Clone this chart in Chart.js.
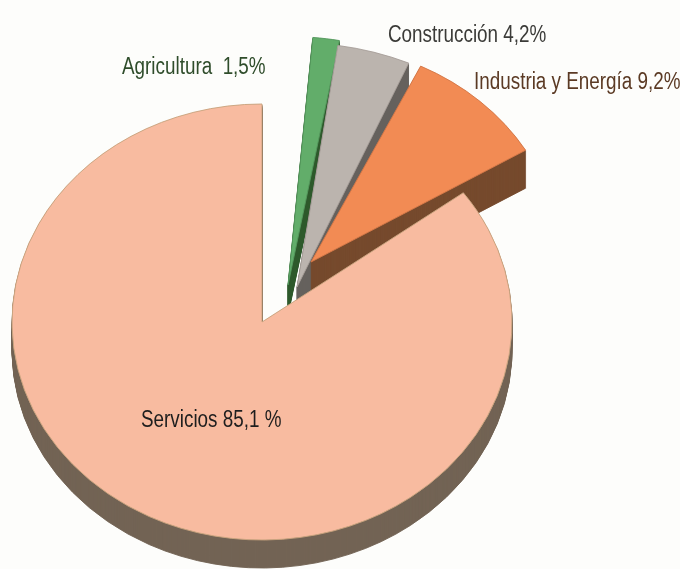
<!DOCTYPE html>
<html lang="es">
<head>
  <meta charset="UTF-8" />
  <meta name="viewport" content="width=device-width, initial-scale=1.0" />
  <title>Estructura sectorial</title>
  <style>
    body {
      margin: 0;
      background: #fdfdfb;
    }
    #wrap {
      width: 680px;
      height: 569px;
      position: relative;
    }
  </style>
</head>
<body>
  <div id="wrap">
    <canvas id="tarta"></canvas>
  </div>

  <script src="https://cdn.jsdelivr.net/npm/chart.js"></script>
  <script>
    const sectores = ["Agricultura", "Construcción", "Industria y Energía", "Servicios"];
    const porcentajes = [1.5, 4.2, 9.2, 85.1];

    // estilo de cada porción
    const colores = ["#62ad6a", "#bbb4ae", "#f28b54", "#f8bba0"];
    const bordes = ["#55985d", "#a8a09a", "#d47848", "#c9a47e"];
    const lados = ["#2e5a2c", "#66625d", "#764a2d", "#736455"];
    const grosor = [30, 34, 38, 28]; // alto del canto en px
    const separacion = [[26, -37], [35, -35], [49, -60], [0, 0]]; // desplazamiento en pantalla
    const giro = [5, 3, 5.5, 0]; // grados que se gira cada porción separada
    const escalaRadio = [1.14, 1.12, 1, 1];
    const colorTexto = ["#2f4d2b", "#3b3b38", "#5b3a24", "#1e1e1e"];
    const posTexto = [[122, 74], [388, 42], [474, 89], [141, 427]];
    const tamTexto = 23;
    const aplanado = 0.872; // vista inclinada: el círculo se ve como elipse

    const fmt = (v, i) =>
      v.toFixed(1).replace(".", ",") + (i === 3 ? " %" : "%");
    const textos = sectores.map((s, i) => s + (i === 0 ? "  " : " ") + fmt(porcentajes[i], i));

    const tarta3d = {
      id: "tarta3d",
      beforeDatasetsDraw(chart) {
        const ctx = chart.ctx;
        const arcos = chart.getDatasetMeta(0).data;
        const cx = arcos[0].x, cy = arcos[0].y;
        const piezas = arcos.map((arco, i) => {
          const p = Object.create(arco);
          const g = (giro[i] * Math.PI) / 180;
          p.outerRadius = arco.outerRadius * escalaRadio[i];
          p.startAngle = arco.startAngle + g;
          p.endAngle = arco.endAngle + g;
          return p;
        });
        ctx.save();
        ctx.translate(cx, cy);
        ctx.scale(1, aplanado);
        ctx.translate(-cx, -cy);
        // cantos: cada porción repetida hacia abajo en color oscuro
        piezas.forEach((p, i) => {
          const canto = Object.create(p);
          canto.options = Object.assign({}, p.options, {
            backgroundColor: lados[i],
            borderColor: lados[i],
          });
          for (let d = grosor[i]; d > 0; d--) {
            ctx.save();
            ctx.translate(separacion[i][0], (separacion[i][1] + d) / aplanado);
            arcos[i].draw.call(canto, ctx);
            ctx.restore();
          }
        });
        // caras superiores
        piezas.forEach((p, i) => {
          ctx.save();
          ctx.translate(separacion[i][0], separacion[i][1] / aplanado);
          arcos[i].draw.call(p, ctx);
          ctx.restore();
        });
        ctx.restore();
        return false;
      },
      afterDraw(chart) {
        const ctx = chart.ctx;
        textos.forEach((t, i) => {
          ctx.save();
          ctx.font = tamTexto + 'px "Liberation Sans", Arial, sans-serif';
          ctx.textBaseline = "alphabetic";
          ctx.textAlign = "left";
          ctx.fillStyle = colorTexto[i];
          ctx.translate(posTexto[i][0], posTexto[i][1]);
          ctx.scale(0.82, 1); // letra estrecha
          ctx.fillText(t, 0, 0);
          ctx.restore();
        });
      },
    };

    new Chart(document.getElementById("tarta"), {
      type: "pie",
      data: {
        labels: sectores,
        datasets: [
          {
            data: porcentajes,
            backgroundColor: colores,
            borderColor: bordes,
            borderWidth: 1,
            radius: 250,
            clip: false,
          },
        ],
      },
      options: {
        responsive: true,
        maintainAspectRatio: false,
        animation: false,
        layout: { padding: { left: 0, right: 156, top: 75, bottom: 0 } },
        plugins: {
          legend: { display: false },
          tooltip: { enabled: false },
        },
      },
      plugins: [tarta3d],
    });
  </script>
</body>
</html>
